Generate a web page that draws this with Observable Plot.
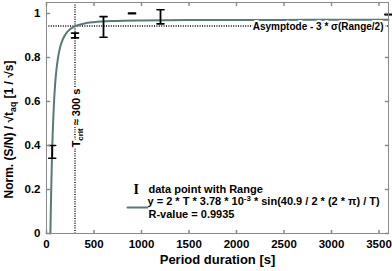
<!DOCTYPE html>
<html><head><meta charset="utf-8">
<script src="https://cdn.jsdelivr.net/npm/d3@7"></script>
<script src="https://cdn.jsdelivr.net/npm/@observablehq/plot@0.6"></script>
<style>html,body{margin:0;padding:0;background:#fff;}</style>
</head><body><div id="chart"></div>
<script>
// Fitted curve y = 2*T*3.78e-3*sin(40.9/2*(2*pi)/T), values read/estimated at sampled periods
const fitPeriods = [40.9, 41, 43, 44, 45, 47, 50, 55, 60, 65, 70, 80, 90, 100, 120, 150, 200, 250, 300, 400, 500, 700, 1000, 1500, 2000, 2500, 3000, 3600];
const fitValues  = [0, 0.0024, 0.0497, 0.0730, 0.0961, 0.1409, 0.2045, 0.2998, 0.3817, 0.4515, 0.5106, 0.6044, 0.6735, 0.7253, 0.7961, 0.8569, 0.9059, 0.9292, 0.9420, 0.9548, 0.9607, 0.9660, 0.9687, 0.9702, 0.9707, 0.9710, 0.9711, 0.9712];

// Data points with range
const pointPeriods = [60, 300, 600, 900, 1200, 3600];
const rangeLow  = [0.342, 0.889, 0.892, 0.999, 0.953, 0.994];
const rangeHigh = [0.400, 0.911, 0.986, 1.002, 1.017, 0.996];

const xTicks = [0, 500, 1000, 1500, 2000, 2500, 3000, 3500];
const yTicks = [0, 0.2, 0.4, 0.6, 0.8, 1];

const tCrit = 300;
const thresholdLevel = 0.943;

const thresholdLabel = "Asymptode - 3 * σ(Range/2)";
const tCritLabel = "T_{crit} ≈ 300 s";
const legendPointLabel = "data point with Range";
const legendFitLabel = "y = 2 * T * 3.78 * 10^{-3} * sin(40.9 / 2 * (2 * π) / T)";
const legendRLabel = "R-value = 0.9935";
const xLabel = "Period duration [s]";
const yLabel = "Norm. (S/N) / √t_{aq} [1 / √s]";

const curve = fitPeriods.map((t, i) => ({t, v: fitValues[i]}));
const points = pointPeriods.map((t, i) => ({t, lo: rangeLow[i], hi: rangeHigh[i]}));

const curveColor = "#5b7878";
const frameColor = "#8a8a8a";
const lineShape = {draw(context, l) { context.moveTo(0, 0); context.lineTo(0, -l); }};
const dotted = {stroke: "black", strokeWidth: 1.4, strokeDasharray: "1,1.4"};

const chart = Plot.plot({
  width: 392, height: 271,
  marginLeft: 46, marginRight: 4, marginTop: 2, marginBottom: 38,
  style: {fontFamily: "'Liberation Sans', Arial, sans-serif", fontSize: "11px", fontWeight: "bold", background: "white", color: "black"},
  x: {domain: [0, 3600]},
  y: {domain: [0, 1.05]},
  marks: [
    Plot.ruleY([thresholdLevel], dotted),
    Plot.ruleX([tCrit], dotted),
    Plot.line(curve, {x: "t", y: "v", stroke: curveColor, strokeWidth: 2, curve: "monotone-x"}),
    Plot.ruleX(points, {x: "t", y1: "lo", y2: "hi", stroke: "black", strokeWidth: 1.8}),
    Plot.vector(points, {x: "t", y: "lo", length: 7, rotate: 90, anchor: "middle", shape: lineShape, stroke: "black", strokeWidth: 1.6}),
    Plot.vector(points, {x: "t", y: "hi", length: 7, rotate: 90, anchor: "middle", shape: lineShape, stroke: "black", strokeWidth: 1.6}),
    Plot.text([thresholdLabel], {x: 3600, y: thresholdLevel, textAnchor: "end", dx: -5, dy: 1, fontSize: 10, fill: "black", stroke: "white", strokeWidth: 4}),
    Plot.text([tCritLabel], {x: tCrit, frameAnchor: "middle", rotate: -90, dx: 1, fill: "black", stroke: "white", strokeWidth: 4}),
    // frame and inward ticks
    Plot.frame({stroke: frameColor}),
    Plot.vector(xTicks, {x: d => d, frameAnchor: "bottom", length: 3, rotate: 0, anchor: "start", shape: lineShape, stroke: frameColor}),
    Plot.vector(xTicks, {x: d => d, frameAnchor: "top", length: 3, rotate: 180, anchor: "start", shape: lineShape, stroke: frameColor}),
    Plot.vector(yTicks, {y: d => d, frameAnchor: "left", length: 3, rotate: 90, anchor: "start", shape: lineShape, stroke: frameColor}),
    Plot.vector(yTicks, {y: d => d, frameAnchor: "right", length: 3, rotate: -90, anchor: "start", shape: lineShape, stroke: frameColor}),
    Plot.axisX({ticks: xTicks, tickSize: 0, tickPadding: 6, tickFormat: d => String(d), label: null, fontSize: 11.5}),
    Plot.axisY({ticks: yTicks, tickSize: 0, tickPadding: 6, tickFormat: d3.format("~g"), label: null, fontSize: 11.5}),
    Plot.text([xLabel], {frameAnchor: "bottom", dy: 30, fontSize: 13}),
    Plot.text([yLabel], {frameAnchor: "bottom-left", dx: -34, dy: -35, rotate: -90, textAnchor: "start", fontSize: 12}),
    // legend
    Plot.text(["I"], {frameAnchor: "bottom-left", dx: 87, dy: -40, fontFamily: "'Liberation Serif', serif", fontWeight: "bold", fontSize: 14}),
    Plot.vector([0], {frameAnchor: "bottom-left", dx: 91, dy: -26, rotate: 90, length: 20, anchor: "middle", shape: lineShape, stroke: curveColor, strokeWidth: 2}),
    Plot.text([legendPointLabel], {frameAnchor: "bottom-left", dx: 102, dy: -41, textAnchor: "start"}),
    Plot.text([legendFitLabel], {frameAnchor: "bottom-left", dx: 101, dy: -29, textAnchor: "start"}),
    Plot.text([legendRLabel], {frameAnchor: "bottom-left", dx: 102, dy: -16, textAnchor: "start"})
  ]
});

// subscripts / superscripts as tspans
d3.select(chart).selectAll("text").each(function() {
  const el = d3.select(this);
  const s = this.textContent;
  if (!/[_^]\{/.test(s)) return;
  el.text(null);
  const re = /([_^])\{([^}]*)\}/g;
  let last = 0, m, pending = 0;
  while ((m = re.exec(s))) {
    if (m.index > last) {
      const t = el.append("tspan").text(s.slice(last, m.index));
      if (pending) t.attr("dy", pending);
      pending = 0;
    }
    const shift = (m[1] === "_" ? 3 : -4) + pending;
    el.append("tspan").attr("dy", shift).attr("font-size", "0.72em").text(m[2]);
    pending = -(m[1] === "_" ? 3 : -4);
    last = re.lastIndex;
  }
  if (last < s.length) {
    const t = el.append("tspan").text(s.slice(last));
    if (pending) t.attr("dy", pending);
  }
});

document.getElementById("chart").appendChild(chart);
</script>
</body></html>
